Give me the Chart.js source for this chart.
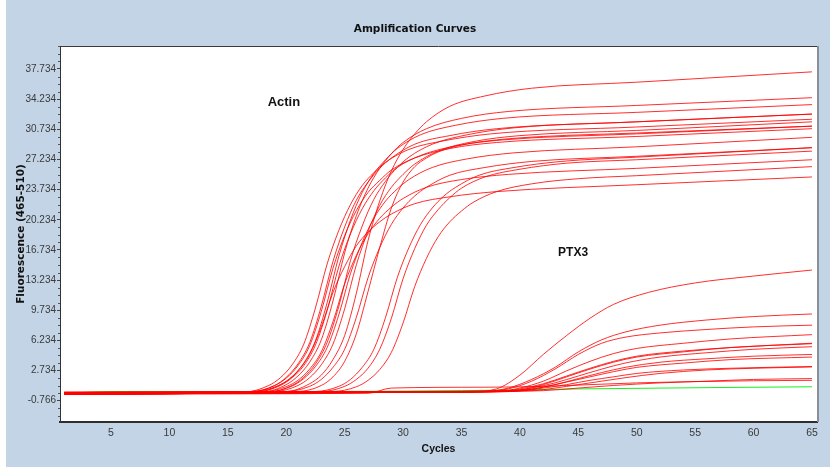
<!DOCTYPE html>
<html>
<head>
<meta charset="utf-8">
<title>Amplification Curves</title>
<script src="https://cdn.jsdelivr.net/npm/chart.js@4.4.1/dist/chart.umd.min.js"></script>
<style>
  html, body { margin: 0; padding: 0; background: #fff; }
  #wrap { width: 830px; height: 470px; }
</style>
</head>
<body>
<div id="wrap"><canvas id="amp-chart" width="830" height="470"></canvas></div>
<script>
// Axis ticks
const xTickValues = [5, 10, 15, 20, 25, 30, 35, 40, 45, 50, 55, 60, 65];
const xTickLabels = ['5', '10', '15', '20', '25', '30', '35', '40', '45', '50', '55', '60', '65'];
const yTickValues = [-0.766, 2.734, 6.234, 9.734, 13.234, 16.734, 20.234, 23.734, 27.234, 30.734, 34.234, 37.734];
const yTickLabels = ['-0.766', '2.734', '6.234', '9.734', '13.234', '16.734', '20.234', '23.734', '27.234', '30.734', '34.234', '37.734'];

// Actin samples, [cycle, fluorescence]
const actinCurves = [
    [[1, 0.1], [20, 0.3], [22, 1.2], [23, 2.2], [24, 4.0], [25, 6.8], [26, 11.7], [27, 17.8], [28, 22.4], [29, 25.9], [30, 28.4], [31, 30.2], [32, 31.6], [34, 33.4], [37, 34.6], [41, 35.5], [50, 36.2], [65, 37.4]],
    [[1, 0.0], [18, 0.25], [20, 1.1], [21, 2.1], [22, 3.7], [23, 6.3], [24, 10.8], [25, 16.4], [26, 20.7], [27, 23.9], [28, 26.2], [29, 27.9], [30, 29.2], [32, 30.8], [35, 32.0], [39, 32.8], [50, 33.5], [65, 34.4]],
    [[1, 0.1], [17.5, 0.25], [19.5, 1.1], [20.5, 2.0], [21.5, 3.6], [22.5, 6.2], [23.5, 10.6], [24.5, 16.0], [25.5, 20.2], [26.5, 23.4], [27.5, 25.6], [28.5, 27.2], [29.5, 28.5], [31.5, 30.1], [34.5, 31.2], [38.5, 32.0], [50, 32.7], [65, 33.6]],
    [[1, 0.2], [17, 0.3], [19, 1.0], [20, 1.95], [21, 3.5], [22, 5.95], [23, 10.2], [24, 15.4], [25, 19.4], [26, 22.5], [27, 24.6], [28, 26.2], [29, 27.4], [31, 29.0], [34, 30.0], [38, 30.8], [50, 31.6], [65, 32.5]],
    [[1, 0.0], [18.5, 0.25], [20.5, 1.0], [21.5, 1.95], [22.5, 3.5], [23.5, 6.0], [24.5, 10.2], [25.5, 15.5], [26.5, 19.5], [27.5, 22.6], [28.5, 24.7], [29.5, 26.3], [30.5, 27.5], [32.5, 29.0], [35.5, 30.1], [39.5, 30.9], [50, 31.6], [65, 32.5]],
    [[1, 0.1], [16.5, 0.25], [18.5, 1.0], [19.5, 1.9], [20.5, 3.4], [21.5, 5.8], [22.5, 10.0], [23.5, 15.1], [24.5, 19.0], [25.5, 22.0], [26.5, 24.2], [27.5, 25.7], [28.5, 26.9], [30.5, 28.4], [33.5, 29.4], [37.5, 30.2], [50, 31.0], [65, 31.9]],
    [[1, 0.2], [19, 0.3], [21, 1.0], [22, 1.9], [23, 3.4], [24, 5.8], [25, 9.9], [26, 15.0], [27, 18.9], [28, 21.9], [29, 24.0], [30, 25.5], [31, 26.7], [33, 28.2], [36, 29.3], [40, 30.0], [50, 30.6], [65, 31.6]],
    [[1, 0.0], [17.5, 0.25], [19.5, 1.0], [20.5, 1.9], [21.5, 3.3], [22.5, 5.7], [23.5, 9.7], [24.5, 14.8], [25.5, 18.6], [26.5, 21.5], [27.5, 23.6], [28.5, 25.1], [29.5, 26.3], [31.5, 27.7], [34.5, 28.8], [38.5, 29.5], [50, 30.2], [65, 31.1]],
    [[1, 0.1], [17, 0.25], [19, 0.98], [20, 1.85], [21, 3.3], [22, 5.6], [23, 9.6], [24, 14.6], [25, 18.4], [26, 21.3], [27, 23.4], [28, 24.8], [29, 26.0], [31, 27.4], [34, 28.5], [38, 29.2], [50, 29.9], [65, 30.8]],
    [[1, 0.1], [18.5, 0.25], [20.5, 0.94], [21.5, 1.8], [22.5, 3.2], [23.5, 5.4], [24.5, 9.2], [25.5, 14.0], [26.5, 17.6], [27.5, 20.4], [28.5, 22.4], [29.5, 23.8], [30.5, 24.9], [32.5, 26.3], [35.5, 27.3], [39.5, 28.0], [50, 28.7], [65, 29.8]],
    [[1, 0.0], [18, 0.25], [20, 0.87], [21, 1.6], [22, 2.9], [23, 4.9], [24, 8.4], [25, 12.8], [26, 16.1], [27, 18.6], [28, 20.4], [29, 21.7], [30, 22.7], [32, 24.0], [35, 24.9], [39, 25.5], [50, 26.2], [65, 27.2]],
    [[1, 0.2], [17, 0.3], [19, 0.8], [20, 1.5], [21, 2.7], [22, 4.6], [23, 7.8], [24, 11.8], [25, 14.8], [26, 17.2], [27, 18.8], [28, 20.0], [29, 20.9], [31, 22.1], [34, 22.9], [38, 23.5], [50, 24.3], [65, 25.2]],
    [[1, 0.1], [20, 0.3], [22, 0.9], [23, 1.7], [24, 3.1], [25, 5.2], [26, 8.9], [27, 13.5], [28, 17.0], [29, 19.7], [30, 21.6], [31, 23.0], [32, 24.0], [34, 25.4], [37, 26.3], [41, 27.0], [50, 27.6], [65, 28.6]],
    [[1, 0.0], [21, 0.3], [23, 1.0], [24, 2.0], [25, 3.8], [26, 7.0], [27, 11.9], [28, 17.0], [29, 21.6], [30, 24.6], [31, 26.4], [32, 27.4], [33, 28.1], [35, 28.9], [38, 29.5], [42, 29.9], [50, 30.3], [65, 31.1]],
    [[1, 0.1], [22.5, 0.3], [24.5, 0.9], [25.5, 1.7], [26.5, 3.1], [27.5, 5.2], [28.5, 8.9], [29.5, 13.5], [30.5, 17.0], [31.5, 19.7], [32.5, 21.6], [33.5, 23.0], [34.5, 24.0], [36.5, 25.4], [39.5, 26.3], [43.5, 27.0], [50, 27.5], [65, 28.6]],
    [[1, 0.2], [23, 0.3], [25, 0.9], [26, 1.7], [27, 3.0], [28, 5.2], [29, 8.8], [30, 13.4], [31, 16.9], [32, 19.6], [33, 21.4], [34, 22.8], [35, 23.9], [37, 25.2], [40, 26.1], [44, 26.8], [50, 27.2], [65, 28.2]],
    [[1, 0.1], [24, 0.3], [26, 0.85], [27, 1.6], [28, 2.85], [29, 4.85], [30, 8.25], [31, 12.5], [32, 15.75], [33, 18.25], [34, 20.0], [35, 21.25], [36, 22.25], [38, 23.5], [41, 24.4], [45, 25.0], [50, 25.35], [65, 26.4]]
];

// PTX3 samples
const ptx3Curves = [
    [[1, 0.1], [30, 0.2], [36, 0.3], [38, 0.6], [40, 2.2], [42, 4.6], [44, 6.8], [46, 8.8], [48, 10.4], [51, 11.8], [55, 12.9], [60, 13.7], [65, 14.4]],
    [[1, 0.0], [30, 0.2], [37, 0.3], [39, 0.7], [41, 1.7], [43, 3.1], [45, 4.9], [47, 6.3], [49, 7.2], [52, 8.0], [56, 8.6], [60, 9.0], [65, 9.3]],
    [[1, 0.1], [30, 0.2], [37, 0.3], [39, 0.6], [41, 1.5], [43, 2.9], [45, 4.6], [47, 5.9], [49, 6.6], [52, 7.1], [56, 7.5], [60, 7.8], [65, 8.0]],
    [[1, 0.0], [30, 0.2], [38, 0.3], [40, 0.7], [42, 1.5], [44, 2.7], [46, 3.8], [48, 4.7], [50, 5.3], [54, 5.9], [58, 6.4], [65, 6.9]],
    [[1, 0.1], [30, 0.2], [38, 0.3], [40, 0.6], [42, 1.2], [44, 2.1], [46, 3.0], [48, 3.8], [50, 4.4], [54, 5.0], [58, 5.4], [65, 5.9]],
    [[1, 0.2], [30, 0.3], [38, 0.3], [40, 0.5], [42, 1.1], [44, 2.0], [46, 2.9], [48, 3.7], [50, 4.3], [54, 4.9], [58, 5.4], [65, 5.85]],
    [[1, 0.1], [30, 0.2], [39, 0.3], [41, 0.7], [43, 1.3], [45, 2.1], [47, 2.9], [49, 3.6], [52, 4.3], [56, 4.8], [60, 5.2], [65, 5.5]],
    [[1, 0.0], [30, 0.2], [39, 0.3], [41, 0.6], [43, 1.1], [45, 1.8], [47, 2.5], [49, 3.1], [52, 3.7], [56, 4.1], [60, 4.4], [65, 4.6]],
    [[1, 0.1], [30, 0.3], [40, 0.4], [42, 0.8], [44, 1.4], [46, 2.0], [48, 2.6], [50, 3.1], [54, 3.6], [58, 4.0], [65, 4.3]],
    [[1, 0.2], [30, 0.3], [40, 0.4], [42, 0.7], [44, 1.1], [46, 1.6], [48, 2.0], [50, 2.4], [54, 2.8], [58, 3.0], [65, 3.2]],
    [[1, 0.1], [30, 0.3], [41, 0.4], [43, 0.7], [45, 1.1], [47, 1.5], [49, 1.9], [52, 2.4], [56, 2.8], [60, 3.0], [65, 3.15]],
    [[1, 0.0], [30, 0.2], [42, 0.4], [45, 0.7], [48, 1.0], [52, 1.3], [56, 1.5], [60, 1.7], [65, 1.8]],
    [[1, 0.0], [27, 0.1], [29, 0.7], [37, 0.8], [42, 0.9], [46, 1.1], [50, 1.3], [55, 1.45], [60, 1.55], [65, 1.6]]
];

// No-template control (green)
const ntcCurve = [[1, 0.1], [5.5, 0.3], [20, 0.3], [35, 0.4], [45, 0.6], [56, 0.75], [65, 0.85]];

const redLine = 'rgba(255, 0, 0, 0.82)';
const greenLine = '#18f018';
const tickFont = "'Liberation Sans', Arial, sans-serif";
const wideBold = "'DejaVu Sans', Verdana, sans-serif";

function curveDataset(points, color) {
    return {
        data: points,
        borderColor: color,
        borderWidth: 1,
        pointRadius: 0,
        fill: false,
        cubicInterpolationMode: 'monotone'
    };
}

const datasets = []
    .concat(actinCurves.map(p => curveDataset(p, redLine)))
    .concat(ptx3Curves.map(p => curveDataset(p, redLine)))
    .concat([curveDataset(ntcCurve, greenLine)]);

// Panel background, frame, minor ticks, gene labels
const framePlugin = {
    id: 'frame',
    beforeDraw(chart) {
        const ctx = chart.ctx;
        const a = chart.chartArea;
        ctx.save();
        ctx.fillStyle = '#ffffff';
        ctx.fillRect(0, 0, chart.width, chart.height);
        ctx.fillStyle = '#c2d4e6';
        ctx.fillRect(6, 0, chart.width - 6, chart.height - 3);
        ctx.fillStyle = '#ffffff';
        ctx.fillRect(a.left, a.top, a.right - a.left, a.bottom - a.top);
        ctx.restore();
    },
    afterDraw(chart) {
        const ctx = chart.ctx;
        const a = chart.chartArea;
        const y = chart.scales.y;
        ctx.save();
        // top and right edge of the plot box
        ctx.strokeStyle = '#3a3a3a';
        ctx.lineWidth = 1;
        ctx.beginPath();
        ctx.moveTo(a.left, a.top + 0.5);
        ctx.lineTo(a.right, a.top + 0.5);
        ctx.stroke();
        ctx.strokeStyle = '#8a8f96';
        ctx.lineWidth = 2;
        ctx.beginPath();
        ctx.moveTo(a.right + 1, a.top);
        ctx.lineTo(a.right + 1, a.bottom);
        ctx.stroke();
        // minor ticks between labelled ones
        ctx.strokeStyle = '#555555';
        ctx.lineWidth = 1;
        const step = (yTickValues[1] - yTickValues[0]) / 4;
        for (let j = -3; j <= 48; j++) {
            if (j % 4 === 0) continue;
            const v = yTickValues[0] + j * step;
            if (v < y.min || v > y.max) continue;
            const py = Math.round(y.getPixelForValue(v)) + 0.5;
            ctx.beginPath();
            ctx.moveTo(a.left - 2, py);
            ctx.lineTo(a.left, py);
            ctx.stroke();
        }
        ctx.restore();
    },
    afterDatasetsDraw(chart, args, opts) {
        const ctx = chart.ctx;
        ctx.save();
        ctx.fillStyle = '#111111';
        ctx.textAlign = 'center';
        ctx.textBaseline = 'middle';
        opts.labels.forEach(l => {
            ctx.font = 'bold ' + l.size + 'px ' + "'Liberation Sans', Arial, sans-serif";
            ctx.fillText(l.text, chart.scales.x.getPixelForValue(l.cycle), chart.scales.y.getPixelForValue(l.value));
        });
        ctx.restore();
    }
};

const ctx = document.getElementById('amp-chart');
new Chart(ctx, {
    type: 'line',
    data: { datasets: datasets },
    plugins: [framePlugin],
    options: {
        responsive: false,
        devicePixelRatio: 1,
        animation: false,
        events: [],
        layout: { padding: 0 },
        plugins: {
            legend: { display: false },
            tooltip: { enabled: false },
            title: {
                display: true,
                text: 'Amplification Curves',
                color: '#111111',
                font: { family: wideBold, size: 10.5, weight: 'bold', lineHeight: 1.2 },
                padding: { top: 23.4, bottom: 10 }
            },
            frame: {
                labels: [
                    { text: 'Actin', cycle: 19.8, value: 33.8, size: 13 },
                    { text: 'PTX3', cycle: 44.55, value: 16.4, size: 12 }
                ]
            }
        },
        scales: {
            x: {
                type: 'linear',
                min: 0.635,
                max: 65.43,
                afterBuildTicks: scale => { scale.ticks = xTickValues.map(v => ({ value: v })); },
                afterFit: scale => { scale.height = 48; },
                grid: { drawOnChartArea: false, drawTicks: false },
                border: { display: true, color: '#2e2e2e', width: 2 },
                ticks: {
                    color: '#3a3a3a',
                    padding: 5,
                    maxRotation: 0,
                    font: { family: tickFont, size: 10.5 },
                    callback: (v, i) => xTickLabels[i]
                },
                title: {
                    display: true,
                    text: 'Cycles',
                    color: '#111111',
                    font: { family: tickFont, size: 10.5, weight: 'bold', lineHeight: 1.2 },
                    padding: { top: 0, bottom: 14.7 }
                }
            },
            y: {
                type: 'linear',
                min: -3.238,
                max: 40.4,
                afterBuildTicks: scale => { scale.ticks = yTickValues.map(v => ({ value: v })); },
                afterFit: scale => { scale.width = 60; },
                grid: { drawOnChartArea: false, tickLength: 3, color: '#444' },
                border: { display: true, color: '#333', width: 1 },
                ticks: {
                    color: '#3a3a3a',
                    padding: 1,
                    font: { family: tickFont, size: 10 },
                    callback: (v, i) => yTickLabels[i]
                },
                title: {
                    display: true,
                    text: 'Fluorescence (465-510)',
                    color: '#111111',
                    font: { family: wideBold, size: 10.5, weight: 'bold', lineHeight: 1.2 },
                    padding: { top: 15, bottom: 0 }
                }
            },
            // empty right-hand strip so the plot ends where the original does
            spacer: {
                type: 'linear',
                position: 'right',
                display: true,
                afterFit: scale => { scale.width = 13; },
                grid: { display: false },
                border: { display: false },
                ticks: { display: false }
            }
        }
    }
});
</script>
</body>
</html>
